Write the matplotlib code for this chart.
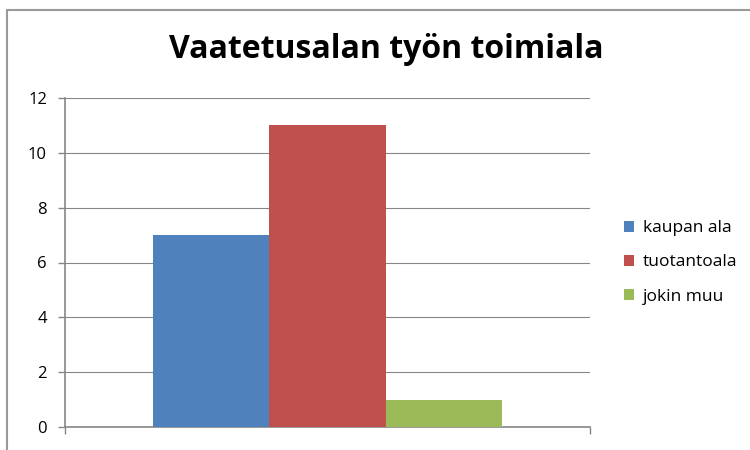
import matplotlib.pyplot as plt
from matplotlib.patches import Rectangle
import numpy as np

title = "Vaatetusalan työn toimiala"
series = ["kaupan ala", "tuotantoala", "jokin muu"]
values = [7, 11, 1]
colors = ["#4F81BD", "#C0504D", "#9BBB59"]
yticks = [0, 2, 4, 6, 8, 10, 12]

plt.rcParams['font.family'] = ['Open Sans', 'DejaVu Sans']

fig = plt.figure(figsize=(7.5, 4.5), dpi=100)
ax = fig.add_axes([65 / 750, 23 / 450, 525 / 750, 329 / 450])

w = 0.221
offsets = (np.arange(len(values)) - 1) * w
for off, v, c, name in zip(offsets, values, colors, series):
    ax.bar(off, v, width=w, color=c, label=name, zorder=3)

ax.set_xlim(-0.5, 0.5)
ax.set_ylim(0, 12)
ax.set_yticks(yticks)
ax.set_xticks([-0.5, 0.5])
ax.set_xticklabels([])
ax.tick_params(axis='x', length=5, color="#868686", width=1, direction='out')
ax.tick_params(axis='y', length=5, color="#868686", width=1, labelsize=12, pad=8)
ax.grid(axis='y', color="#868686", linewidth=0.8, zorder=0)
for s in ['top', 'right']:
    ax.spines[s].set_visible(False)
for s in ['left', 'bottom']:
    ax.spines[s].set_color("#868686")
    ax.spines[s].set_linewidth(1.2)

fig.text(386 / 750, 1 - 50 / 450, title, ha='center', va='center',
         fontsize=23, fontweight='bold')

ax.legend(loc='center left', bbox_to_anchor=(1.035, 0.5), frameon=False,
          fontsize=12.5, handlelength=0.6, handleheight=0.6, handletextpad=0.5,
          labelspacing=1.05)

# outer chart border
fig.add_artist(Rectangle((7 / 750, -0.1), 1.2, 1 - 10 / 450 + 0.1,
                         transform=fig.transFigure, fill=False,
                         edgecolor="#9a9a9a", linewidth=1.5))

fig.savefig("out.png", dpi=100)
